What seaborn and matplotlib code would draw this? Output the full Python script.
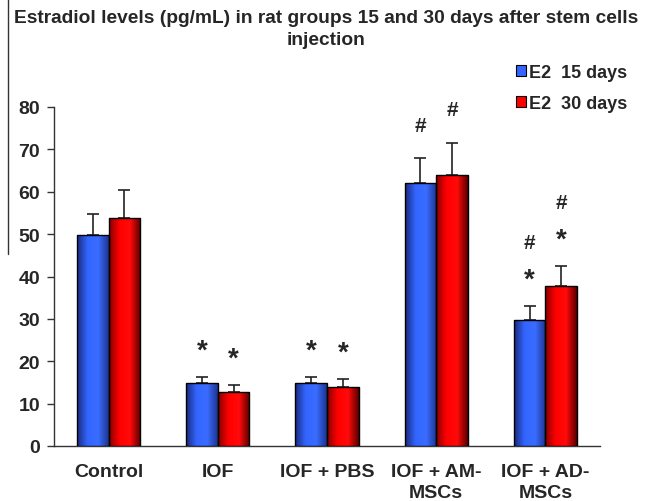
import numpy as np
import pandas as pd
import matplotlib
matplotlib.use('Agg')
import matplotlib.pyplot as plt
import matplotlib.colors as mcolors
from matplotlib.patches import Patch
import seaborn as sns

groups = ['Control', 'IOF', 'IOF + PBS', 'IOF + AM-\nMSCs', 'IOF + AD-\nMSCs']
series = ['E2  15 days', 'E2  30 days']
e2_15 = [49.7, 14.9, 14.9, 62.0, 29.7]
e2_30 = [53.8, 12.7, 13.9, 63.9, 37.7]
err_15 = [5.0, 1.4, 1.4, 5.9, 3.3]
err_30 = [6.6, 1.7, 1.9, 7.6, 4.8]
# significance marks above each bar, bottom to top
marks_15 = [[], ['*'], ['*'], ['#'], ['*', '#']]
marks_30 = [[], ['*'], ['*'], ['#'], ['*', '#']]


def main():
    df = pd.DataFrame({
        'group': groups * 2,
        'series': [series[0]] * 5 + [series[1]] * 5,
        'value': e2_15 + e2_30,
    })

    sns.set_style('white')
    plt.rcParams['font.family'] = ['Liberation Sans', 'DejaVu Sans']
    plt.rcParams['font.weight'] = 'bold'

    fig = plt.figure(figsize=(6.48, 5.02), dpi=100)
    ax = fig.add_axes([54 / 648, 1 - 447 / 502, 546 / 648, 339 / 502])

    palette = {series[0]: '#3366ff', series[1]: '#ff0000'}
    sns.barplot(data=df, x='group', y='value', hue='series', palette=palette,
                errorbar=None, width=0.58, edgecolor='black', linewidth=1,
                ax=ax, legend=False, zorder=3)

    # shaded (cylinder-like) fill for each bar
    cmaps = [
        mcolors.LinearSegmentedColormap.from_list('b', ['#1a2a80', '#3366ff', '#3a6cff', '#1e3590']),
        mcolors.LinearSegmentedColormap.from_list('r', ['#8a0000', '#ff0000', '#ff0a0a', '#5a0000']),
    ]
    grad = np.linspace(0, 1, 64).reshape(1, -1)
    means = [e2_15, e2_30]
    errs = [err_15, err_30]
    marks = [marks_15, marks_30]
    bar_containers = list(ax.containers)
    for s, container in enumerate(bar_containers):
        for i, bar in enumerate(container.patches):
            x0, w, h = bar.get_x(), bar.get_width(), bar.get_height()
            im = ax.imshow(grad, cmap=cmaps[s], aspect='auto',
                           extent=[x0, x0 + w, 0, h], zorder=3.5)
            im.set_clip_path(bar)
            bar.set_facecolor('none')
            bar.set_zorder(4)
            xc = x0 + w / 2
            ax.errorbar(xc, means[s][i], yerr=[[0], [errs[s][i]]], fmt='none',
                        ecolor='#222222', elinewidth=1.2, capsize=4, capthick=1.2,
                        zorder=2)
            top = means[s][i] + errs[s][i]
            for k, m in enumerate(marks[s][i]):
                if m == '*':
                    ax.text(xc, top + 6.3 + k * 7.5, m, ha='center', va='center',
                            fontsize=20, fontweight='bold')
                else:
                    ax.text(xc, top + 7.8 + k * 7.2, m, ha='center', va='center',
                            fontsize=15, fontweight='bold')

    ax.set_xlim(-0.5, 4.5)
    ax.set_ylim(0, 80)
    ax.set_yticks(range(0, 81, 10))
    ax.set_xlabel('')
    ax.set_ylabel('')
    ax.set_xticks(range(5))
    ax.set_xticklabels(groups, fontsize=14, fontweight='bold', linespacing=1.35)
    ax.set_xticks(np.arange(-0.5, 4.6, 1), minor=True)
    ax.tick_params(axis='x', which='major', length=0, pad=12)
    ax.tick_params(axis='x', which='minor', length=5, width=1, direction='out', color='#333333')
    ax.tick_params(axis='y', length=5, width=1, direction='out', color='#333333',
                   labelsize=14, pad=5, left=True)
    for t in ax.get_yticklabels():
        t.set_fontweight('bold')
    sns.despine(ax=ax)
    for sp in ['left', 'bottom']:
        ax.spines[sp].set_color('#333333')
        ax.spines[sp].set_linewidth(1)

    fig.text(0.503, 1 - 10 / 502, 'Estradiol levels (pg/mL) in rat groups 15 and 30 days after stem cells\ninjection',
             ha='center', va='top', fontsize=13.8, fontweight='bold',
             linespacing=1.42)
    fig.add_artist(plt.Line2D([8 / 648, 8 / 648], [1, 1 - 255 / 502],
                              color='#333333', linewidth=1))

    handles = [Patch(facecolor='#3366ff', edgecolor='black', linewidth=0.8),
               Patch(facecolor='#ff0000', edgecolor='black', linewidth=0.8)]
    fig.legend(handles, series, loc='upper left', bbox_to_anchor=(516 / 648, 1 - 65 / 502),
               frameon=False, fontsize=13, handlelength=0.55, handleheight=0.55,
               handletextpad=0.15, labelspacing=0.75, borderaxespad=0, borderpad=0)

    fig.savefig('out.png', dpi=100)


if __name__ == '__main__':
    main()
